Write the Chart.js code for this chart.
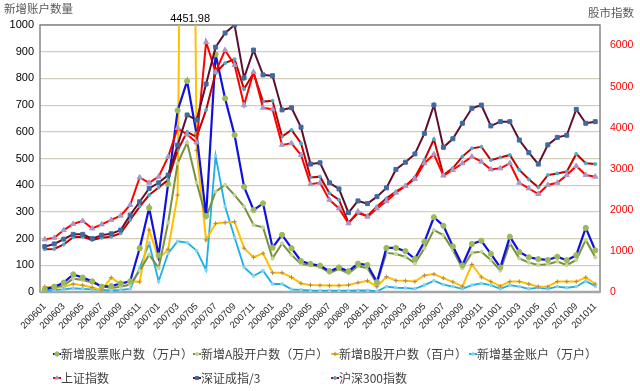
<!DOCTYPE html>
<html>
<head>
<meta charset="utf-8">
<script src="https://cdn.jsdelivr.net/npm/chart.js@4.4.1/dist/chart.umd.min.js"></script>
<style>
html,body{margin:0;padding:0;background:#ffffff;}
#wrap{position:relative;width:640px;height:391px;}
</style>
</head>
<body>
<div id="wrap"><canvas id="c" width="640" height="391"></canvas></div>
<script>
// ---------- data ----------
const months = [
  '200601','200602','200603','200604','200605','200606','200607','200608','200609','200610','200611','200612',
  '200701','200702','200703','200704','200705','200706','200707','200708','200709','200710','200711','200712',
  '200801','200802','200803','200804','200805','200806','200807','200808','200809','200810','200811','200812',
  '200901','200902','200903','200904','200905','200906','200907','200908','200909','200910','200911','200912',
  '201001','201002','201003','201004','201005','201006','201007','201008','201009','201010','201011'
];
// 新增股票账户数（万户）
const stockAccounts = [
  10,20,35,66,54,40,20,22,32,40,164,315,
  137,405,680,790,590,285,890,725,588,394,307,332,
  166,214,164,116,105,99,78,92,78,106,101,37,
  165,165,153,124,188,280,248,171,100,180,192,143,
  92,207,150,130,123,120,132,119,138,240,156
];
// 新增A股开户数（万户）
const aShareAccounts = [
  10,18,25,50,45,35,22,15,20,28,80,140,
  90,260,482,560,410,280,376,401,363,320,251,242,
  126,182,139,105,101,95,72,86,70,97,89,32,
  147,142,132,107,164,232,213,157,89,147,151,120,
  80,183,126,110,101,104,114,101,120,195,130
];
// 新增B股开户数（百户）
const bShareAccounts = [
  20,15,20,30,25,17,7,54,30,40,38,232,
  124,160,363,4451.98,530,195,257,260,263,164,130,145,
  72,72,55,32,26,25,24,24,26,35,42,20,
  57,43,42,39,62,67,52,38,21,103,56,39,
  22,39,39,30,20,20,39,39,39,55,30
];
// 新增基金账户（万户）
const fundAccounts = [
  5,8,10,14,12,10,8,6,8,12,90,182,
  40,145,190,185,155,82,510,320,205,93,60,80,
  30,30,10,8,6,5,5,5,5,6,6,3,
  20,16,15,12,26,42,28,20,12,26,32,26,
  12,26,20,12,16,12,20,16,20,41,22
];
// 上证指数
const shIndex = [
  1281,1320,1508,1658,1729,1547,1645,1755,1859,2119,2789,2659,
  2808,3289,3991,3835,3640,6084,5356,5889,5525,4550,5356,4485,
  4446,3582,3621,3335,2626,2659,2243,2035,1671,1957,1833,2035,
  2210,2418,2581,2750,3133,3354,2834,2971,3133,3296,3172,2984,
  3010,3133,2659,2522,2386,2607,2659,2847,3068,2847,2808
];
// 深证成指/3
const szIndexDiv3 = [
  1105,1170,1287,1404,1404,1300,1385,1417,1508,1872,2197,2522,
  2659,2847,3575,4310,4186,5064,5961,6305,6500,5213,5889,5285,
  5265,4433,4485,4011,3114,3146,2659,2509,1931,2217,2152,2321,
  2535,2984,3159,3361,3861,4550,3523,3731,4108,4472,4550,4043,
  4147,4147,3699,3393,3114,3582,3764,3816,4446,4108,4147
];
// 沪深300指数
const hs300Index = [
  1040,1047,1157,1333,1346,1268,1320,1346,1430,1755,2080,2360,
  2542,2730,3445,3900,3770,4433,5330,5571,5668,4940,5330,4635,
  4654,3783,3946,3621,2789,2808,2405,2243,1690,1918,1853,2080,
  2282,2444,2581,2795,3211,3718,2847,3016,3296,3497,3536,3211,
  3276,3335,2971,2743,2548,2847,2886,2932,3361,3133,3114
];
const seriesNames = ['新增股票账户数（万户）','新增A股开户数（万户）','新增B股开户数（百户）','新增基金账户（万户）','上证指数','深证成指/3','沪深300指数'];
const leftTitle = '新增账户数量';
const rightTitle = '股市指数';
const leftTicks = [0,100,200,300,400,500,600,700,800,900,1000];
const rightTicks = [0,1000,2000,3000,4000,5000,6000];
const leftMax = 1000, rightMax = 6500;
const offscaleIndex = 15; // B股 point above the axis, labelled with its value

// ---------- chart ----------
const styles = [
  {color:'#1010E0', pt:'circle', r:2.6, pc:'#9BBB59', w:2.2, axis:'y'},
  {color:'#76923C', pt:'circle', r:1.6, pc:'#C3D69B', w:2, axis:'y'},
  {color:'#FFC000', pt:'cross',  r:2.2, pc:'#B08850', w:2, axis:'y'},
  {color:'#1AAFE6', pt:'rect',   r:1.6, pc:'#8ED3EE', w:1.8, axis:'y'},
  {color:'#FF0000', pt:'triangle', r:3, pc:'#A899C8', w:2, axis:'y1'},
  {color:'#5E0F30', pt:'rect',   r:2.8, pc:'#3F6AA0', w:2, axis:'y1'},
  {color:'#C00000', pt:'circle', r:1.5, pc:'#4BACC6', w:2, axis:'y1'}
];
const allData = [stockAccounts, aShareAccounts, bShareAccounts, fundAccounts, shIndex, szIndexDiv3, hs300Index];
const datasets = allData.map((d,i)=>({
  label: seriesNames[i],
  data: d,
  yAxisID: styles[i].axis,
  borderColor: styles[i].color,
  backgroundColor: styles[i].pc,
  borderWidth: styles[i].w,
  pointStyle: styles[i].pt,
  pointRadius: styles[i].r,
  pointBackgroundColor: styles[i].pc,
  pointBorderColor: styles[i].pc,
  pointBorderWidth: 1,
  tension: 0,
  order: [3,4,5,6,1,0,2][i]
}));

const overlay = {
  id:'overlay',
  beforeDatasetsDraw(chart){
    const {ctx, chartArea:a} = chart;
    ctx.save();
    ctx.strokeStyle = '#868686';
    ctx.lineWidth = 1.5;
    ctx.strokeRect(a.left, a.top, a.right-a.left, a.bottom-a.top);
    ctx.strokeStyle = '#A6A6A6';
    ctx.lineWidth = 2.5;
    ctx.beginPath(); ctx.moveTo(a.left, a.bottom); ctx.lineTo(a.right, a.bottom); ctx.stroke();
    ctx.restore();
  },
  afterDraw(chart){
    const {ctx, chartArea:a, scales} = chart;
    ctx.save();
    ctx.fillStyle = '#595959';
    ctx.font = '11.5px "Noto Sans CJK SC"';
    ctx.textBaseline = 'middle';
    ctx.textAlign = 'left';
    ctx.fillText(leftTitle, 4, 9);
    ctx.textAlign = 'right';
    ctx.fillText(rightTitle, 634, 13);
    // value label of the off-scale point
    const px = scales.x.getPixelForValue(offscaleIndex);
    ctx.fillStyle = '#000000';
    ctx.font = '11px "Liberation Sans"';
    ctx.textAlign = 'center';
    ctx.textBaseline = 'alphabetic';
    ctx.fillText(String(bShareAccounts[offscaleIndex]), px+3, a.top-3);
    // legend
    const colX = [57, 197, 335, 473];
    const rowY = [354, 378];
    const pos = [[0,0],[1,0],[2,0],[3,0],[0,1],[1,1],[2,1]];
    ctx.font = '12px "Noto Sans CJK SC"';
    ctx.textAlign = 'left';
    ctx.textBaseline = 'middle';
    seriesNames.forEach((name,i)=>{
      const x = colX[pos[i][0]], y = rowY[pos[i][1]];
      ctx.strokeStyle = styles[i].color;
      ctx.lineWidth = 2;
      ctx.beginPath(); ctx.moveTo(x-4, y); ctx.lineTo(x+4, y); ctx.stroke();
      ctx.fillStyle = styles[i].pc;
      ctx.strokeStyle = styles[i].pc;
      ctx.lineWidth = 1;
      Chart.helpers.drawPoint(ctx, {pointStyle: styles[i].pt, radius: Math.min(styles[i].r, 2.2), borderWidth: 1, rotation: 0}, x, y);
      ctx.fillStyle = '#404040';
      ctx.fillText(name, x+4, y);
    });
    ctx.restore();
  }
};

new Chart(document.getElementById('c'), {
  type: 'line',
  data: { labels: months, datasets },
  options: {
    responsive: false,
    animation: false,
    devicePixelRatio: 1,
    layout: { padding: { top: 25, bottom: 47, left: 0, right: 0 } },
    plugins: { legend: { display: false }, tooltip: { enabled: false } },
    elements: { line: { tension: 0 } },
    scales: {
      x: {
        type: 'category',
        offset: true,
        grid: { display: false, drawTicks: false },
        border: { display: false },
        ticks: {
          autoSkip: false, maxRotation: 45, minRotation: 45,
          font: { size: 9.5, family: 'Liberation Sans' }, color: '#262626', padding: 9,
          callback: (v, i) => (i % 2 === 0 ? months[i] : '')
        },
        afterFit: s => { s.height = 52; }
      },
      y: {
        position: 'left', min: 0, max: leftMax,
        afterBuildTicks: s => { s.ticks = leftTicks.map(v => ({ value: v })); },
        ticks: { autoSkip: false, font: { size: 11, family: 'Liberation Sans' }, color: '#000000', padding: 6,
                 callback: v => String(v) },
        grid: { color: '#D2CEBB', lineWidth: 1.2, drawTicks: false },
        border: { display: false },
        afterFit: s => { s.width = 40; }
      },
      y1: {
        position: 'right', min: 0, max: rightMax,
        afterBuildTicks: s => { s.ticks = rightTicks.map(v => ({ value: v })); },
        ticks: { autoSkip: false, font: { size: 10.5, family: 'Liberation Sans' }, color: '#FF0000', padding: 10,
                 callback: v => String(v) },
        grid: { drawOnChartArea: false, drawTicks: false },
        border: { display: false },
        afterFit: s => { s.width = 40; }
      }
    }
  },
  plugins: [overlay]
});
</script>
</body>
</html>
